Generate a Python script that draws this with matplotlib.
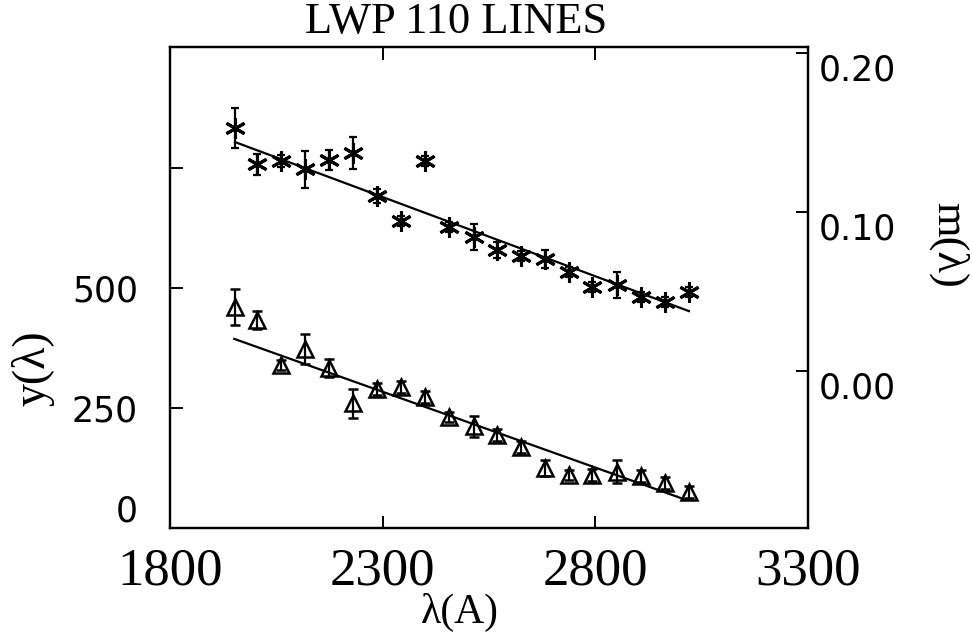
import matplotlib
matplotlib.use("Agg")
import matplotlib.pyplot as plt
import numpy as np

# ---------------- data ----------------
wavelength = [1952, 2005, 2061, 2117, 2174, 2231, 2286, 2343, 2400, 2456,
              2515, 2569, 2625, 2682, 2738, 2793, 2851, 2907, 2963, 3020]

# m(lambda) - asterisks, right axis
m_values = [0.1528, 0.1302, 0.1321, 0.1270, 0.1327, 0.1371, 0.1101, 0.0943,
            0.1321, 0.0906, 0.0843, 0.0761, 0.0723, 0.0704, 0.0623, 0.0528,
            0.0541, 0.0465, 0.0434, 0.0497]
m_errors = [0.0126, 0.0066, 0.0038, 0.0116, 0.0063, 0.0101, 0.0044, 0.0032,
            0.0032, 0.0032, 0.0079, 0.0050, 0.0032, 0.0057, 0.0032, 0.0032,
            0.0082, 0.0032, 0.0032, 0.0032]
m_fit_lambda = [1953, 3020]
m_fit_values = [0.1440, 0.0377]

# y(lambda) - triangles, left axis
y_values = [460, 433, 340, 373, 333, 260, 290, 294, 273, 231,
            212, 194, 169, 125, 110, 110, 117, 108, 94, 75]
y_errors = [38, 19, 10, 32, 19, 30, 12, 12, 12, 10,
            22, 12, 12, 17, 10, 12, 24, 12, 12, 12]
y_fit_lambda = [1951, 3015]
y_fit_values = [394, 58]

x_ticks = [1800, 2300, 2800, 3300]
x_ticklabels = ["1800", "2300", "2800", "3300"]
left_ticks = [0, 250, 500, 750]
left_ticklabels = ["0", "250", "500", ""]
right_ticks = [0.0, 0.1, 0.2]
right_ticklabels = ["0.00", "0.10", "0.20"]

title = "LWP 110 LINES"
xlabel = "λ(A)"
ylabel_left = "y(λ)"
ylabel_right = "m(λ)"

# ---------------- figure ----------------
W, H, DPI = 972, 638, 100
fig = plt.figure(figsize=(W / DPI, H / DPI), dpi=DPI)
ax_l, ax_r_px, ax_t, ax_b = 170, 808, 47, 528
ax = fig.add_axes([ax_l / W, 1 - ax_b / H, (ax_r_px - ax_l) / W, (ax_b - ax_t) / H])
ax2 = ax.twinx()

black = "black"
ax.set_xlim(1800, 3300)
ax.set_ylim(0, 1002)
ax2.set_ylim(-0.0987, 0.2038)

for a in (ax, ax2):
    for s in a.spines.values():
        s.set_linewidth(1.6)
        s.set_color(black)

# triangles on the left axis
ax.errorbar(wavelength, y_values, yerr=y_errors, fmt="^", ms=11,
            mfc="none", mec=black, mew=1.8, ecolor=black, elinewidth=1.6,
            capsize=3.5, capthick=1.6, zorder=3)
ax.plot(y_fit_lambda, y_fit_values, color=black, lw=1.6, zorder=2)

# asterisks on the right axis
ax2.errorbar(wavelength, m_values, yerr=m_errors, fmt="none",
             ecolor=black, elinewidth=1.6, capsize=3, capthick=1.6, zorder=3)
ax2.plot(wavelength, m_values, ls="none", marker=(6, 2, 0), ms=15,
         mec=black, mew=2.2, zorder=4)
ax2.plot(m_fit_lambda, m_fit_values, color=black, lw=1.6, zorder=2)

# ticks
ax.set_xticks(x_ticks)
ax.set_xticklabels(x_ticklabels, family="Liberation Serif", fontsize=38)
ax.tick_params(axis="x", direction="in", length=9, width=1.4, pad=14,
               top=True, bottom=True)
ax.set_yticks(left_ticks)
ax.set_yticklabels(left_ticklabels, family="DejaVu Sans", fontsize=25)
ax.tick_params(axis="y", direction="in", length=9, width=1.4, pad=23, left=True, right=False)
ax.get_yticklabels()[0].set_va("bottom")

ax2.set_yticks(right_ticks)
ax2.set_yticklabels(right_ticklabels, family="DejaVu Sans", fontsize=25)
ax2.tick_params(axis="y", direction="in", length=9, width=1.4, pad=8)
for lab in ax2.get_yticklabels():
    lab.set_va("top")

# texts
fig.text(456 / W, 1 - 22 / H, title, family="Liberation Serif", fontsize=32,
         ha="center", va="center")
fig.text(460 / W, 1 - 612 / H, xlabel, family="Liberation Serif", fontsize=30,
         ha="center", va="center")
fig.text(33 / W, 1 - 368 / H, ylabel_left, family="Liberation Serif", fontsize=33,
         ha="center", va="center", rotation=90)
fig.text(948 / W, 1 - 245 / H, ylabel_right, family="Liberation Serif", fontsize=32,
         ha="center", va="center", rotation=-90)

fig.savefig("out.png", dpi=DPI)
